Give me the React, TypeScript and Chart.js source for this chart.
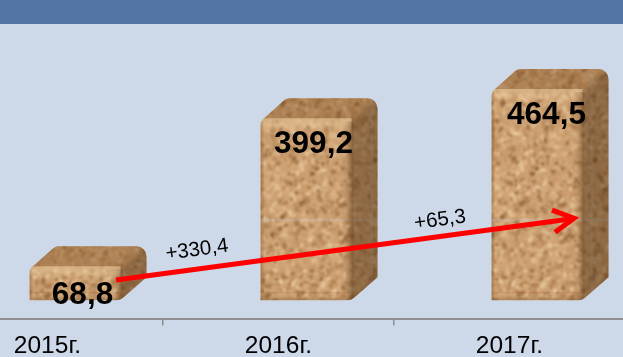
import React, { useEffect, useRef } from "react";
import { Chart, registerables } from "chart.js";

Chart.register(...registerables);

const categories = ["2015г.", "2016г.", "2017г."];
const volumes = [68.8, 399.2, 464.5];
const valueLabels = ["68,8", "399,2", "464,5"];
const deltaLabels = ["+330,4", "+65,3"];
const arrowValues = [45, 183];

const FONT = '"Liberation Sans", Arial, sans-serif';

function makeTexture(): HTMLCanvasElement {
  const size = 220;
  const raw = document.createElement("canvas");
  raw.width = raw.height = size;
  const c = raw.getContext("2d")!;
  let s = 12345;
  const next = () => {
    s = (s * 1664525 + 1013904223) >>> 0;
    return s / 4294967296;
  };
  c.fillStyle = "#cc9f70";
  c.fillRect(0, 0, size, size);
  const palette = ["#e4bf92", "#edd0a8", "#b48555", "#a27447", "#d8b082", "#855830", "#c4986a", "#dfb78a"];
  for (let i = 0; i < 4600; i++) {
    const px = next() * size;
    const py = next() * size;
    const rx = 0.8 + next() * 2.6;
    const ry = 0.8 + next() * 2;
    const rot = next() * 3.14;
    c.fillStyle = palette[Math.floor(next() * palette.length)];
    c.globalAlpha = 0.35 + next() * 0.45;
    for (const ox of [-size, 0, size]) {
      for (const oy of [-size, 0, size]) {
        c.beginPath();
        c.ellipse(px + ox, py + oy, rx, ry, rot, 0, 6.3);
        c.fill();
      }
    }
  }
  const out = document.createElement("canvas");
  out.width = out.height = size;
  const o = out.getContext("2d")!;
  o.filter = "blur(1px)";
  for (const ox of [-size, 0, size]) {
    for (const oy of [-size, 0, size]) {
      o.drawImage(raw, ox, oy);
    }
  }
  return out;
}

function facePath(c: CanvasRenderingContext2D, pts: number[][]) {
  c.beginPath();
  pts.forEach((p, i) => (i ? c.lineTo(p[0], p[1]) : c.moveTo(p[0], p[1])));
  c.closePath();
}

function drawBlock(c: CanvasRenderingContext2D, pattern: CanvasPattern, L: number, R: number, T: number, B: number) {
  const dx = 26;
  const dy = 23;
  const r = 8;
  c.save();
  c.beginPath();
  c.moveTo(L, B);
  c.arcTo(L, T, L + dx, T - dy, r);
  c.arcTo(L + dx, T - dy, R + dx, T - dy, r);
  c.arcTo(R + dx, T - dy, R + dx, B - dy, r + 2);
  c.lineTo(R + dx, B - dy);
  c.arcTo(R, B, L, B, r + 2);
  c.closePath();
  c.clip();
  c.fillStyle = pattern;
  c.fillRect(L - 2, T - dy - 2, R - L + dx + 4, B - T + dy + 4);

  // soft-edged top and side faces
  c.save();
  c.filter = "blur(2.2px)";
  facePath(c, [[L - 6, T], [L + dx - 6, T - dy - 6], [R + dx + 6, T - dy - 6], [R, T]]);
  c.fillStyle = "rgba(120,76,34,0.38)";
  c.fill();
  facePath(c, [[R - 1, T], [R + dx + 6, T - dy - 6], [R + dx + 6, B - dy + 6], [R - 1, B + 4]]);
  c.fillStyle = "rgba(80,50,20,0.5)";
  c.fill();
  c.restore();

  // rounded front edges
  const h = c.createLinearGradient(0, T - 3, 0, T + 11);
  h.addColorStop(0, "rgba(255,226,178,0.5)");
  h.addColorStop(0.45, "rgba(245,215,170,0.4)");
  h.addColorStop(1, "rgba(245,215,170,0)");
  c.fillStyle = h;
  c.fillRect(L, T - 3, R - L, 14);
  const e = c.createLinearGradient(R - 10, 0, R + 2, 0);
  e.addColorStop(0, "rgba(90,55,20,0)");
  e.addColorStop(1, "rgba(90,55,20,0.3)");
  c.fillStyle = e;
  c.fillRect(R - 10, T, 12, B - T);
  const l = c.createLinearGradient(L, 0, L + 4, 0);
  l.addColorStop(0, "rgba(90,55,20,0.35)");
  l.addColorStop(1, "rgba(90,55,20,0)");
  c.fillStyle = l;
  c.fillRect(L, T, 4, B - T);
  c.fillStyle = "rgba(170,90,50,0.28)";
  c.fillRect(L, B - 8, R - L, 1);
  const bt = c.createLinearGradient(0, B - 4, 0, B);
  bt.addColorStop(0, "rgba(90,55,20,0)");
  bt.addColorStop(1, "rgba(90,55,20,0.3)");
  c.fillStyle = bt;
  c.fillRect(L, B - 4, R - L, 4);
  c.restore();
}

const blockPlugin = {
  id: "blocks",
  beforeDraw(chart: any) {
    const c: CanvasRenderingContext2D = chart.ctx;
    c.save();
    c.fillStyle = "#cdd8e8";
    c.fillRect(0, 0, chart.width, chart.height);
    c.fillStyle = "#5275a5";
    c.fillRect(0, 0, chart.width, 24);
    c.restore();
  },
  afterDatasetsDraw(chart: any) {
    const c: CanvasRenderingContext2D = chart.ctx;
    const bars = chart.getDatasetMeta(0).data;
    const y = chart.scales.y;
    const pattern = c.createPattern(makeTexture(), "repeat")!;
    bars.forEach((b: any) => drawBlock(c, pattern, b.x - 18, b.x + 73, b.y, b.base));

    // growth arrow
    const x0 = bars[0].x + 68.5;
    const x1 = bars[2].x + 67.5;
    const y0 = y.getPixelForValue(arrowValues[0]);
    const y1 = y.getPixelForValue(arrowValues[1]);
    c.save();
    c.strokeStyle = "#ff0000";
    c.lineWidth = 5;
    c.lineCap = "butt";
    c.beginPath();
    c.moveTo(x0, y0);
    c.lineTo(x1 - 3, y1 + 0.4);
    c.stroke();
    c.lineJoin = "miter";
    c.beginPath();
    c.moveTo(x1 - 25, y1 - 8);
    c.lineTo(x1 - 3, y1);
    c.lineTo(x1 - 22, y1 + 14);
    c.stroke();
    c.restore();

    // value labels
    c.save();
    c.fillStyle = "#000";
    c.font = `bold 31.5px ${FONT}`;
    c.textAlign = "center";
    c.textBaseline = "alphabetic";
    bars.forEach((b: any, i: number) => {
      c.fillText(valueLabels[i], b.x + (i === 2 ? 37 : 35), i === 0 ? b.y + 35 : b.y + 32);
    });
    c.restore();

    // delta labels
    const angle = Math.atan2(y1 - y0, x1 - x0);
    const drawDelta = (text: string, x: number, yy: number) => {
      c.save();
      c.translate(x, yy);
      c.rotate(angle);
      c.fillStyle = "#000";
      c.font = `20.5px ${FONT}`;
      c.textAlign = "center";
      c.textBaseline = "middle";
      c.fillText(text, 0, 0);
      c.restore();
    };
    drawDelta(deltaLabels[0], (bars[0].x + bars[1].x) / 2 + 34, y0 - 30);
    drawDelta(deltaLabels[1], (bars[1].x + bars[2].x) / 2 + 46, y1 + 2);
  },
};

export default function App() {
  const ref = useRef<HTMLCanvasElement>(null);
  useEffect(() => {
    document.body.style.margin = "0";
    const chart = new Chart(ref.current!, {
      type: "bar",
      data: {
        labels: categories,
        datasets: [
          {
            data: volumes,
            backgroundColor: "rgba(0,0,0,0)",
            barThickness: 91,
          },
        ],
      },
      options: {
        animation: false,
        responsive: false,
        layout: { padding: { top: 30, left: 0, right: 0, bottom: 0 } },
        plugins: { legend: { display: false }, tooltip: { enabled: false } },
        scales: {
          y: { display: false, min: -41, max: 603 },
          x: {
            afterFit(axis: any) {
              axis.height = 38.5;
            },
            border: { color: "#8f8f8f", width: 2 },
            grid: { drawOnChartArea: false, color: "#8f8f8f", lineWidth: 1.5, tickLength: 7 },
            ticks: {
              color: "#000",
              font: { family: "Liberation Sans", size: 24.5 },
              padding: 6,
              autoSkip: false,
              maxRotation: 0,
            },
          },
        },
      },
      plugins: [blockPlugin],
    } as any);
    return () => chart.destroy();
  }, []);
  return (
    <div style={{ position: "fixed", left: 0, top: 0, width: 623, height: 357, overflow: "hidden" }}>
      <canvas ref={ref} width={693} height={357} style={{ display: "block", marginLeft: -68 }} />
    </div>
  );
}
